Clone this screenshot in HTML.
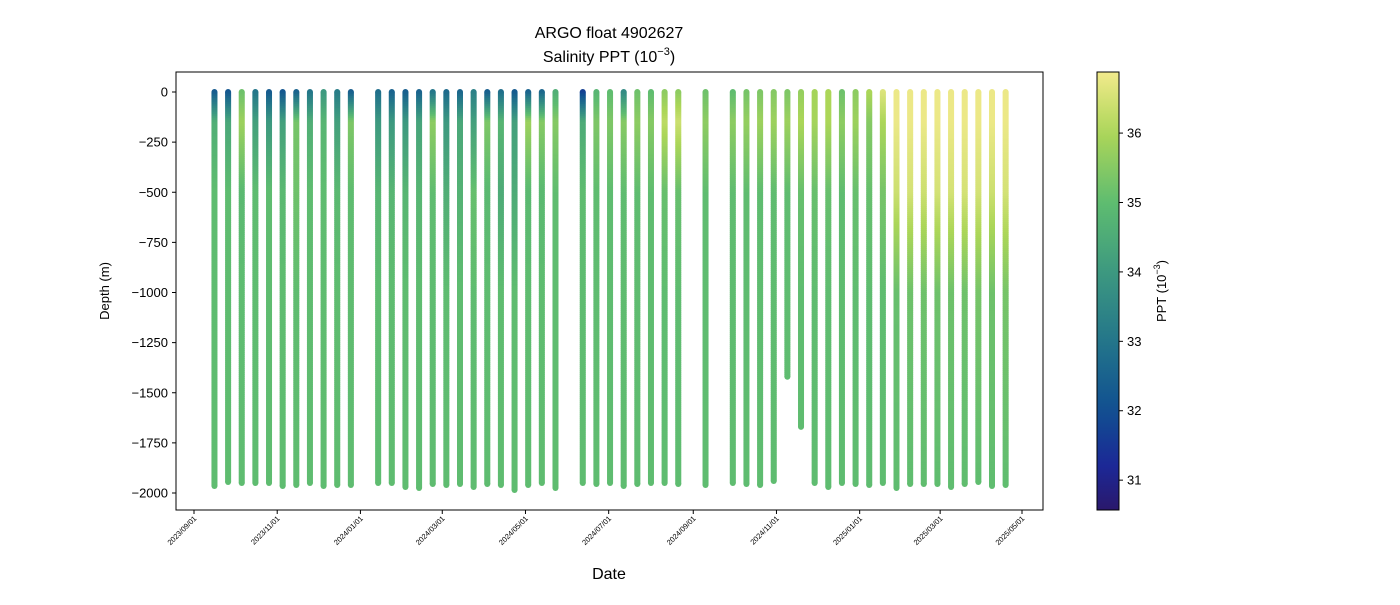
<!DOCTYPE html>
<html><head><meta charset="utf-8"><style>
body{margin:0;background:#fff;font-family:"Liberation Sans","DejaVu Sans",sans-serif}
svg text{font-family:"Liberation Sans","DejaVu Sans",sans-serif}
</style></head><body>
<svg id="chart" width="1400" height="600" xmlns="http://www.w3.org/2000/svg">
<defs id="defs"></defs>
<text x="609" y="38" font-size="16" text-anchor="middle">ARGO float 4902627</text>
<text x="609" y="62" font-size="16" text-anchor="middle">Salinity PPT (10<tspan dy="-7" font-size="11">−3</tspan><tspan dy="7">)</tspan></text>
<g id="plot"></g>
<rect x="176" y="72" width="867" height="438" fill="none" stroke="#000" stroke-width="1"/>
<text transform="translate(109,291) rotate(-90)" font-size="13" text-anchor="middle">Depth (m)</text>
<text x="609" y="579" font-size="16" text-anchor="middle">Date</text>
<g id="cbar"></g>
<text transform="translate(1166,291) rotate(-90)" font-size="13" text-anchor="middle">PPT (10<tspan dy="-6" font-size="9">−3</tspan><tspan dy="6">)</tspan></text>
</svg>
<script>
const profileDays=[15,25,35,45,55,65,75,85,95,105,115,135,145,155,165,175,185,195,205,215,225,235,245,255,265,285,295,305,315,325,335,345,355,375,395,405,415,425,435,445,455,465,475,485,495,505,515,525,535,545,555,565,575,585,595];
const maxDepth=[1965,1945,1950,1950,1950,1965,1960,1950,1965,1960,1960,1950,1950,1970,1975,1955,1960,1955,1970,1955,1960,1985,1960,1950,1975,1950,1955,1950,1965,1955,1950,1950,1955,1960,1950,1955,1960,1940,1420,1670,1950,1970,1950,1955,1960,1950,1975,1955,1955,1955,1970,1955,1945,1965,1960];
const salSurface=[32.3,32.2,35.2,33.0,32.3,32.2,32.5,33.0,34.0,33.2,32.4,32.8,32.5,32.4,32.5,33.0,32.7,32.6,33.3,32.4,32.8,32.3,32.5,32.6,34.6,31.7,34.8,35.0,33.6,35.2,35.0,35.6,35.6,35.2,35.0,35.3,35.4,35.5,35.4,35.7,35.9,36.0,35.2,35.6,36.0,36.6,36.8,36.8,36.8,36.8,36.8,36.8,36.8,36.8,36.8];
const sal150=[34.6,34.4,35.8,34.2,34.0,34.2,35.3,34.6,34.8,34.2,35.4,34.0,34.0,34.0,34.3,35.6,34.0,34.4,34.2,35.4,34.8,34.2,35.8,35.5,35.5,34.5,35.4,35.4,35.5,35.6,35.5,36.2,36.4,35.6,35.6,35.7,35.8,35.8,35.8,36.0,35.9,36.0,35.6,35.8,35.5,36.0,36.8,36.8,36.8,36.8,36.8,36.8,36.8,36.8,36.8];
const sal500=[35.0,35.0,34.9,35.0,35.0,34.9,35.2,35.0,35.0,34.9,35.0,34.8,34.8,34.8,34.8,35.0,34.6,34.7,35.1,34.9,34.5,34.5,34.9,34.9,35.0,35.0,35.0,35.0,35.0,35.0,35.0,35.1,35.1,35.0,35.0,35.0,35.0,35.0,35.0,35.1,35.1,35.1,35.0,35.1,35.1,35.3,36.4,36.5,36.4,36.5,36.5,36.5,36.5,36.4,36.5];
const sal1000=[35.0,35.0,35.0,35.0,35.0,35.0,35.0,35.0,35.0,35.0,35.0,35.0,35.0,35.0,35.0,35.0,35.0,35.0,35.0,35.0,35.0,35.0,35.0,35.0,35.0,35.0,35.0,35.0,35.0,35.0,35.0,35.0,35.0,35.0,35.0,35.0,35.0,35.0,35.0,35.0,35.0,35.0,35.0,35.0,35.0,35.0,35.1,35.2,35.2,35.2,35.2,35.2,35.3,35.2,35.3];
const sal2000=[35.0,35.0,35.0,35.0,35.0,35.0,35.0,35.0,35.0,35.0,35.0,35.0,35.0,35.0,35.0,35.0,35.0,35.0,35.0,35.0,35.0,35.0,35.0,35.0,35.0,35.0,35.0,35.0,35.0,35.0,35.0,35.0,35.0,35.0,35.0,35.0,35.0,35.0,35.0,35.0,35.0,35.0,35.0,35.0,35.0,35.0,35.0,35.0,35.0,35.0,35.0,35.0,35.0,35.0,35.0];
const knotDepths=[0,150,500,1000,2000];
const yTicks=[0,-250,-500,-750,-1000,-1250,-1500,-1750,-2000];
const xTickDays=[0,61,122,182,243,304,366,427,488,547,607];
const xTickLabels=["2023/09/01","2023/11/01","2024/01/01","2024/03/01","2024/05/01","2024/07/01","2024/09/01","2024/11/01","2025/01/01","2025/03/01","2025/05/01"];
const cTicks=[31,32,33,34,35,36];
const cMin=30.57,cMax=36.88;

const NS="http://www.w3.org/2000/svg";
const xs=d=>194+d*(1022-194)/607;
const ys=v=>92-v*0.2005;
const cy=v=>510-(v-cMin)/(cMax-cMin)*438;
const stops=[[0,[42,24,108]],[0.1,[28,40,150]],[0.23,[16,80,145]],[0.385,[36,118,138]],[0.54,[60,152,128]],[0.7,[94,188,112]],[0.86,[172,214,88]],[1,[242,234,140]]];
function cmap(v){let t=Math.max(0,Math.min(1,(v-cMin)/(cMax-cMin)));for(let i=1;i<stops.length;i++){if(t<=stops[i][0]){const a=stops[i-1],b=stops[i];const f=(t-a[0])/(b[0]-a[0]);return `rgb(${a[1].map((c,k)=>Math.round(c+(b[1][k]-c)*f)).join(',')})`;}}return 'rgb(242,234,140)';}
function el(tag,attrs,parent){const e=document.createElementNS(NS,tag);for(const k in attrs)e.setAttribute(k,attrs[k]);parent.appendChild(e);return e;}
const defs=document.getElementById('defs'),plot=document.getElementById('plot'),cbar=document.getElementById('cbar');

function salAt(i,dep){
  const vals=[salSurface[i],sal150[i],sal500[i],sal1000[i],sal2000[i]];
  for(let k=1;k<knotDepths.length;k++){
    if(dep<=knotDepths[k]){const f=(dep-knotDepths[k-1])/(knotDepths[k]-knotDepths[k-1]);return vals[k-1]+(vals[k]-vals[k-1])*f;}
  }
  return vals[vals.length-1];
}
profileDays.forEach((d,i)=>{
  const x=xs(d);
  const g=el('g',{},plot);
  
  
  const step=10;
  el('circle',{cx:x,cy:ys(0),r:3,fill:cmap(salAt(i,0))},g);
  el('circle',{cx:x,cy:ys(-maxDepth[i]),r:3,fill:cmap(salAt(i,maxDepth[i]))},g);
  for(let dep=0;dep<maxDepth[i];dep+=step){
    const d2=Math.min(dep+step,maxDepth[i]);
    el('line',{x1:x,y1:ys(-dep)-0.3,x2:x,y2:ys(-d2)+0.3,stroke:cmap(salAt(i,dep+step/2)),'stroke-width':6},g);
  }
});
yTicks.forEach(v=>{
  const y=ys(v);
  const t=el('line',{x1:172,y1:y,x2:176,y2:y,stroke:'#000'},plot);
  
  
  const tx=el('text',{x:168,y:y+4.5,'font-size':13,'text-anchor':'end'},plot);
  tx.textContent=String(v).replace('-','−');
  
  
});
xTickDays.forEach((d,i)=>{
  const x=xs(d);
  const t=el('line',{x1:x,y1:510,x2:x,y2:514,stroke:'#000'},plot);
  
  
  const tx=el('text',{transform:`translate(${x+3},${519}) rotate(-45)`,'font-size':7.5,'text-anchor':'end'},plot);
  tx.textContent=xTickLabels[i];
  
  
});
const cg=el('linearGradient',{id:'cbg',x1:0,y1:1,x2:0,y2:0},defs);
for(let k=0;k<=20;k++){el('stop',{offset:k/20,'stop-color':cmap(cMin+(cMax-cMin)*k/20)},cg);}
const cr=el('rect',{x:1097,y:72,width:22,height:438,fill:'url(#cbg)',stroke:'#000','stroke-width':1},cbar);


cTicks.forEach(v=>{
  const y=cy(v);
  const t=el('line',{x1:1119,y1:y,x2:1123,y2:y,stroke:'#000'},cbar);
  
  
  const tx=el('text',{x:1127,y:y+4.5,'font-size':13},cbar);
  tx.textContent=v;
  
  
});
</script>
</body></html>
